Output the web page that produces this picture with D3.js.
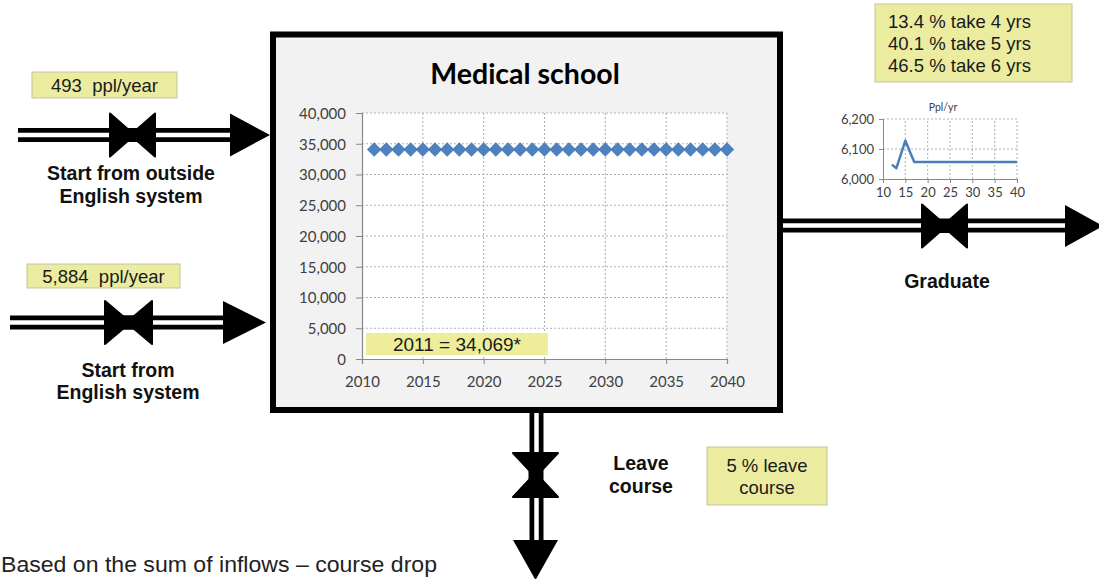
<!DOCTYPE html>
<html><head><meta charset="utf-8">
<script src="https://cdn.jsdelivr.net/npm/d3@7"></script>
<style>
body{margin:0;background:#fff;}
svg{display:block;}
text{white-space:pre;}
</style></head>
<body>
<svg id="c" width="1099" height="579"></svg>
<script>
// ---- data ----
const stockYears = [2011,2012,2013,2014,2015,2016,2017,2018,2019,2020,2021,2022,2023,2024,2025,2026,2027,2028,2029,2030,2031,2032,2033,2034,2035,2036,2037,2038,2039,2040];
const stockValues = [34069,34069,34069,34069,34069,34069,34069,34069,34069,34069,34069,34069,34069,34069,34069,34069,34069,34069,34069,34069,34069,34069,34069,34069,34069,34069,34069,34069,34069,34069];
const stockXTicks = [2010,2015,2020,2025,2030,2035,2040];
const stockYTicks = [0,5000,10000,15000,20000,25000,30000,35000,40000];
const stockTitle = "Medical school";
const stockNote = "2011 = 34,069*";

const gradYears = [12,13,14,15,16,17,18,19,20,21,22,23,24,25,26,27,28,29,30,31,32,33,34,35,36,37,38,39,40];
const gradValues = [6048,6036,6082,6128,6092,6057,6057,6057,6057,6057,6057,6057,6057,6057,6057,6057,6057,6057,6057,6057,6057,6057,6057,6057,6057,6057,6057,6057,6057];
const gradXTicks = [10,15,20,25,30,35,40];
const gradYTicks = [6000,6100,6200];
const gradTitle = "Ppl/yr";

const inflow1Label = "493  ppl/year";
const inflow1Name = ["Start from outside","English system"];
const inflow2Label = "5,884  ppl/year";
const inflow2Name = ["Start from","English system"];
const gradName = "Graduate";
const durationLines = ["13.4 % take 4 yrs","40.1 % take 5 yrs","46.5 % take 6 yrs"];
const leaveName = ["Leave","course"];
const leaveLines = ["5 % leave","course"];
const footnote = "Based on the sum of inflows \u2013 course drop";

// ---- drawing ----
const svg = d3.select("#c");
const yellow = "#ececa0", yellowStroke = "#c4c49c";
const sans = "'Liberation Sans', Arial, sans-serif";
const cal = "Lato, 'Open Sans', sans-serif";

function yellowBox(x, y, w, h, lines, fs, lineH, align) {
  svg.append("rect").attr("x", x).attr("y", y).attr("width", w).attr("height", h)
    .attr("fill", yellow).attr("stroke", yellowStroke).attr("stroke-width", 1);
  const n = lines.length;
  lines.forEach((t, i) => {
    svg.append("text")
      .attr("x", align === "start" ? x + 13 : x + w / 2)
      .attr("y", y + h / 2 + (i - (n - 1) / 2) * lineH + fs * 0.36)
      .attr("text-anchor", align || "middle")
      .attr("font-family", sans).attr("font-size", fs).attr("fill", "#1a1a1a")
      .text(t);
  });
}
function pipeH(x1, x2, yc) {
  svg.append("line").attr("x1", x1).attr("x2", x2).attr("y1", yc).attr("y2", yc)
    .attr("stroke", "#000").attr("stroke-width", 14);
  svg.append("line").attr("x1", x1).attr("x2", x2).attr("y1", yc).attr("y2", yc)
    .attr("stroke", "#fff").attr("stroke-width", 4.5);
}
function pipeV(xc, y1, y2) {
  svg.append("line").attr("x1", xc).attr("x2", xc).attr("y1", y1).attr("y2", y2)
    .attr("stroke", "#000").attr("stroke-width", 14);
  svg.append("line").attr("x1", xc).attr("x2", xc).attr("y1", y1).attr("y2", y2)
    .attr("stroke", "#fff").attr("stroke-width", 4.5);
}
function valveH(x1, x2, yc, h) {
  const cx = (x1 + x2) / 2;
  svg.append("path").attr("d", `M${x1},${yc - h/2}L${cx + 2},${yc}L${x1},${yc + h/2}Z M${x2},${yc - h/2}L${cx - 2},${yc}L${x2},${yc + h/2}Z`)
    .attr("fill", "#000").attr("stroke", "#000").attr("stroke-width", 2).attr("stroke-linejoin", "round");
  svg.append("rect").attr("x", cx - 8).attr("y", yc - 7).attr("width", 16).attr("height", 14).attr("fill", "#000");
}
function valveV(xc, y1, y2, w) {
  const cy = (y1 + y2) / 2;
  svg.append("path").attr("d", `M${xc - w/2},${y1}L${xc},${cy + 2}L${xc + w/2},${y1}Z M${xc - w/2},${y2}L${xc},${cy - 2}L${xc + w/2},${y2}Z`)
    .attr("fill", "#000").attr("stroke", "#000").attr("stroke-width", 2).attr("stroke-linejoin", "round");
  svg.append("rect").attr("x", xc - 7).attr("y", cy - 8).attr("width", 14).attr("height", 16).attr("fill", "#000");
}
function arrowR(xb, xt, yc, h) {
  svg.append("path").attr("d", `M${xb},${yc - h/2}L${xt},${yc}L${xb},${yc + h/2}Z`).attr("fill", "#000");
}
function arrowD(yb, yt, xc, w) {
  svg.append("path").attr("d", `M${xc - w/2},${yb}L${xc},${yt}L${xc + w/2},${yb}Z`).attr("fill", "#000");
}
function boldLabel(x, y, lines, fs, lh) {
  lines.forEach((t, i) => svg.append("text").attr("x", x).attr("y", y + i * lh)
    .attr("text-anchor", "middle").attr("font-family", sans).attr("font-weight", "bold")
    .attr("font-size", fs).attr("fill", "#111").text(t));
}

// inflow 1
pipeH(18, 235, 135);
valveH(110, 155, 135, 43);
arrowR(230, 270, 135, 43);
yellowBox(32, 72, 145, 26, [inflow1Label], 18.5, 18);
boldLabel(131, 180, inflow1Name, 19.5, 23);

// inflow 2
pipeH(10, 228, 322.5);
valveH(105, 152, 322.5, 43);
arrowR(223, 266, 322.5, 43);
yellowBox(27, 264, 153, 24, [inflow2Label], 18.5, 18);
boldLabel(128, 377, inflow2Name, 19.5, 22);

// outflow graduate
pipeH(780, 1070, 225.5);
valveH(922, 967, 226, 43);
arrowR(1065, 1103, 226, 42);
boldLabel(947, 288, [gradName], 19.5, 22);

// outflow leave
pipeV(536.5, 410, 545);
valveV(535.5, 453, 497, 45);
arrowD(540, 580, 535.5, 45);
boldLabel(641, 470, leaveName, 19.5, 23);
yellowBox(707, 447, 120, 58, leaveLines, 18.5, 22);

// duration box
yellowBox(875, 4, 197, 78, durationLines, 18.5, 22, "start");

// main box
svg.append("rect").attr("x", 273).attr("y", 34.5).attr("width", 507).attr("height", 375.5)
  .attr("fill", "#f2f2f2").attr("stroke", "#000").attr("stroke-width", 6);
svg.append("text").attr("x", 525).attr("y", 84).attr("text-anchor", "middle")
  .attr("font-family", cal).attr("font-weight", "bold").attr("font-size", 28.5).attr("fill", "#000")
  .text(stockTitle);

const x = d3.scaleLinear().domain([2010, 2040]).range([362, 727]);
const y = d3.scaleLinear().domain([0, 40000]).range([359, 113]);
const g = svg.append("g");
g.append("rect").attr("x", x(2010)).attr("y", y(40000)).attr("width", x(2040) - x(2010)).attr("height", y(0) - y(40000)).attr("fill", "#fff");
// grid
g.selectAll(".hg").data(stockYTicks.filter(d => d > 0)).join("line")
  .attr("x1", x(2010)).attr("x2", x(2040)).attr("y1", d => y(d)).attr("y2", d => y(d))
  .attr("stroke", "#b0b0b0").attr("stroke-dasharray", "2,2");
g.selectAll(".vg").data(stockXTicks.filter(d => d > 2010)).join("line")
  .attr("x1", d => x(d)).attr("x2", d => x(d)).attr("y1", y(0)).attr("y2", y(40000))
  .attr("stroke", "#b0b0b0").attr("stroke-dasharray", "2,2");
// axes
const ya = g.append("g").attr("transform", `translate(${x(2010)},0)`)
  .call(d3.axisLeft(y).tickValues(stockYTicks).tickFormat(d3.format(",")).tickSize(6).tickPadding(10));
const xa = g.append("g").attr("transform", `translate(0,${y(0)})`)
  .call(d3.axisBottom(x).tickValues(stockXTicks).tickFormat(d3.format("d")).tickSize(5).tickPadding(12));
[ya, xa].forEach(a => {
  a.select(".domain").attr("stroke", "#888").attr("stroke-width", 1.2);
  a.selectAll(".tick line").attr("stroke", "#888");
  a.selectAll("text").attr("font-family", cal).attr("font-size", 15).attr("fill", "#404040");
});
ya.selectAll("text").attr("dy", "0.35em");
// series
g.append("path").datum(stockYears.map((d, i) => [d, stockValues[i]]))
  .attr("d", d3.line().x(d => x(d[0])).y(d => y(d[1])))
  .attr("fill", "none").attr("stroke", "#4f81bd").attr("stroke-width", 2);
g.selectAll(".dm").data(stockYears.map((d, i) => [d, stockValues[i]])).join("path")
  .attr("d", d => { const cx = x(d[0]), cy = y(d[1]), r = 7.2; return `M${cx},${cy - r}L${cx + r},${cy}L${cx},${cy + r}L${cx - r},${cy}Z`; })
  .attr("fill", "#4f81bd");
// note
g.append("rect").attr("x", 366).attr("y", 333).attr("width", 182).attr("height", 22).attr("fill", "#eded9a");
g.append("text").attr("x", 457).attr("y", 351).attr("text-anchor", "middle")
  .attr("font-family", sans).attr("font-size", 19).attr("fill", "#1a1a1a").text(stockNote);

// small graduate chart
const xs = d3.scaleLinear().domain([10, 40]).range([883, 1017]);
const ys = d3.scaleLinear().domain([6000, 6200]).range([179, 119]);
const sg = svg.append("g");
sg.selectAll(".hg").data(gradYTicks.filter(d => d > 6000)).join("line")
  .attr("x1", xs(10)).attr("x2", xs(40)).attr("y1", d => ys(d)).attr("y2", d => ys(d))
  .attr("stroke", "#b0b0b0").attr("stroke-dasharray", "2,2");
sg.selectAll(".vg").data(gradXTicks.filter(d => d > 10)).join("line")
  .attr("x1", d => xs(d)).attr("x2", d => xs(d)).attr("y1", ys(6000)).attr("y2", ys(6200))
  .attr("stroke", "#b0b0b0").attr("stroke-dasharray", "2,2");
const sya = sg.append("g").attr("transform", `translate(${xs(10)},0)`)
  .call(d3.axisLeft(ys).tickValues(gradYTicks).tickFormat(d3.format(",")).tickSize(4).tickPadding(5));
const sxa = sg.append("g").attr("transform", `translate(0,${ys(6000)})`)
  .call(d3.axisBottom(xs).tickValues(gradXTicks).tickFormat(d3.format("d")).tickSize(4).tickPadding(5));
[sya, sxa].forEach(a => {
  a.select(".domain").attr("stroke", "#888");
  a.selectAll(".tick line").attr("stroke", "#888");
  a.selectAll("text").attr("font-family", cal).attr("font-size", 13).attr("fill", "#404040");
});
sg.append("path").datum(gradYears.map((d, i) => [d, gradValues[i]]))
  .attr("d", d3.line().x(d => xs(d[0])).y(d => ys(d[1])))
  .attr("fill", "none").attr("stroke", "#4a7ebb").attr("stroke-width", 2.5).attr("stroke-linejoin", "round");
sg.append("text").attr("x", 943).attr("y", 111).attr("text-anchor", "middle")
  .attr("font-family", cal).attr("font-size", 10.5).attr("fill", "#404040").text(gradTitle);

// footnote (kept fully visible, ending where the reference ends)
svg.append("text").attr("x", 1).attr("y", 572).attr("font-family", sans).attr("font-size", 22)
  .attr("fill", "#222").attr("textLength", 436).attr("lengthAdjust", "spacingAndGlyphs").text(footnote);
</script>
</body></html>
